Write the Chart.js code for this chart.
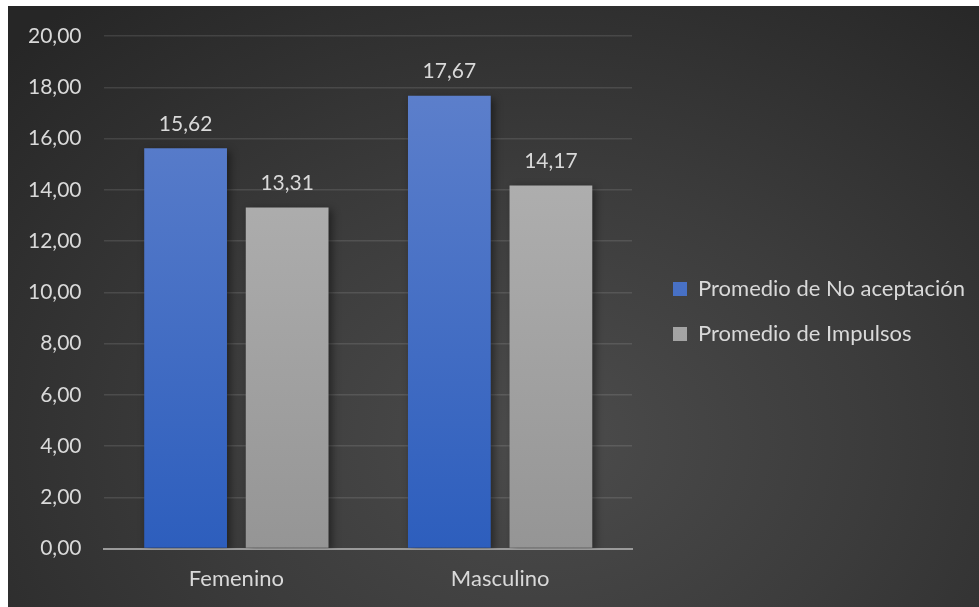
<!DOCTYPE html>
<html>
<head>
<meta charset="utf-8">
<script src="https://cdn.jsdelivr.net/npm/chart.js@4.4.0/dist/chart.umd.min.js"></script>
<style>
    html, body { margin: 0; padding: 0; background: #ffffff; }
    #box {
        position: absolute; left: 8px; top: 6px; width: 971px; height: 601px;
        background: radial-gradient(ellipse 75% 95% at 55% 72%, #4c4c4c 0%, #3c3c3c 45%, #262626 100%);
    }
</style>
</head>
<body>
<div id="box"><canvas id="graficoPromedios" width="971" height="601"></canvas></div>
<script>
// datos del grafico
const categorias = ['Femenino', 'Masculino'];
const noAceptacion = [15.62, 17.67];
const impulsos = [13.31, 14.17];
const serieNombres = ['Promedio de No aceptación', 'Promedio de Impulsos'];
const ticksY = [0, 2, 4, 6, 8, 10, 12, 14, 16, 18, 20];

const fuente = 'Lato, "Open Sans", sans-serif';
const colorTexto = '#d9d9d9';

function coma(v) {
    return v.toFixed(2).replace('.', ',');
}

function degradado(ctx, area, arriba, abajo) {
    const g = ctx.createLinearGradient(0, area.top, 0, area.bottom);
    g.addColorStop(0, arriba);
    g.addColorStop(1, abajo);
    return g;
}

// sombra de las barras y etiquetas de valor
const plugBarras = {
    id: 'plugBarras',
    beforeDatasetDraw(chart) {
        const c = chart.ctx;
        c.save();
        c.shadowColor = 'rgba(0,0,0,0.45)';
        c.shadowBlur = 8;
        c.shadowOffsetX = 3;
        c.shadowOffsetY = 3;
    },
    afterDatasetDraw(chart) {
        chart.ctx.restore();
    },
    afterDatasetsDraw(chart) {
        const c = chart.ctx;
        c.save();
        c.font = '21px ' + fuente;
        c.fillStyle = colorTexto;
        c.textAlign = 'center';
        c.textBaseline = 'middle';
        chart.data.datasets.forEach((ds, i) => {
            chart.getDatasetMeta(i).data.forEach((bar, j) => {
                c.fillText(coma(ds.data[j]), bar.x, bar.y - 24);
            });
        });
        c.restore();
    }
};

window.onload = function () {
    const ctx = document.getElementById('graficoPromedios').getContext('2d');
    new Chart(ctx, {
        type: 'bar',
        data: {
            labels: categorias,
            datasets: [{
                label: serieNombres[0],
                data: noAceptacion,
                backgroundColor: (c) => c.chart.chartArea ? degradado(c.chart.ctx, c.chart.chartArea, '#6283cd', '#2d5ebd') : '#4472c4',
                categoryPercentage: 0.77,
                barPercentage: 0.815
            }, {
                label: serieNombres[1],
                data: impulsos,
                backgroundColor: (c) => c.chart.chartArea ? degradado(c.chart.ctx, c.chart.chartArea, '#b8b8b8', '#959595') : '#a5a5a5',
                categoryPercentage: 0.77,
                barPercentage: 0.815
            }]
        },
        options: {
            responsive: false,
            animation: false,
            layout: { padding: { left: -3, top: 8, right: 4, bottom: -2 } },
            scales: {
                x: {
                    grid: { display: false, drawTicks: false },
                    border: { display: true, color: '#9a9a9a', width: 2 },
                    ticks: { color: colorTexto, font: { family: fuente, size: 22 }, padding: 17 }
                },
                y: {
                    min: 0,
                    max: 20,
                    afterBuildTicks: (s) => { s.ticks = ticksY.map(v => ({ value: v })); },
                    afterFit: (s) => { s.paddingTop = 30; },
                    grid: { color: 'rgba(255,255,255,0.11)', lineWidth: 1.5, drawTicks: false },
                    border: { display: false },
                    ticks: {
                        color: colorTexto,
                        font: { family: fuente, size: 21 },
                        padding: 23,
                        callback: (v) => coma(v)
                    }
                },
                y2: {
                    position: 'right',
                    grid: { display: false },
                    border: { display: false },
                    ticks: { display: false },
                    afterFit: (s) => { s.width = 18; }
                }
            },
            plugins: {
                legend: {
                    position: 'right',
                    maxWidth: 400,
                    labels: {
                        color: colorTexto,
                        font: { family: fuente, size: 22 },
                        boxWidth: 14,
                        boxHeight: 14,
                        padding: 23
                    }
                },
                tooltip: { enabled: false }
            }
        },
        plugins: [plugBarras]
    });
};
</script>
</body>
</html>
